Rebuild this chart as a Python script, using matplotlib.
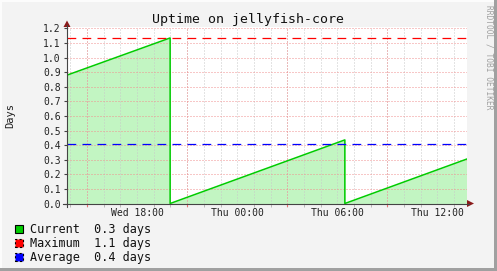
import matplotlib
matplotlib.use("Agg")
import matplotlib.pyplot as plt
from matplotlib.patches import Rectangle, Polygon
from matplotlib.lines import Line2D

# datos (horas desde el miércoles 00:00, uptime en días)
hours = [13.8, 19.98, 19.98, 30.45, 30.45, 37.74]
uptime = [0.88, 1.135, 0.0, 0.436, 0.0, 0.304]
maximum = 1.135
average = 0.405
current = uptime[-1]

label_hours = [18, 24, 30, 36]
label_text = ["Wed 18:00", "Thu 00:00", "Thu 06:00", "Thu 12:00"]
major_grid_hours = [15, 21, 27, 33]
minor_grid_hours = list(range(14, 38))
y_ticks = [i / 10 for i in range(13)]

W, H = 497, 271
mono = "DejaVu Sans Mono"


def fx(x):
    return x / W


def fy(y):
    return 1 - y / H


fig = plt.figure(figsize=(W / 100, H / 100), dpi=100)
fig.patch.set_facecolor("#f3f3f3")

# borde estilo 3D
fig.add_artist(Rectangle((0, fy(2)), 1, 2 / H, transform=fig.transFigure, color="#fcfcfc", lw=0))
fig.add_artist(Rectangle((0, 0), 2 / W, 1, transform=fig.transFigure, color="#fcfcfc", lw=0))
fig.add_artist(Rectangle((fx(494), 0), 3 / W, 1, transform=fig.transFigure, color="#a0a0a0", lw=0))
fig.add_artist(Rectangle((0, 0), 1, 3 / H, transform=fig.transFigure, color="#a0a0a0", lw=0))

left, right, top, bottom = 67, 466.5, 27, 203.5
ax = fig.add_axes([fx(left), fy(bottom), (right - left) / W, (bottom - top) / H])
ax.set_facecolor("white")
for s in ax.spines.values():
    s.set_visible(False)

ax.set_xlim(hours[0], hours[-1])
ax.set_ylim(0, 1.21)

# grilla
for h in minor_grid_hours:
    ax.axvline(h, color="#c8c8c8", lw=0.72, ls=(0, (1, 2)), zorder=3)
for h in major_grid_hours:
    ax.axvline(h, color="#f09090", lw=0.72, ls=(0, (1, 2)), zorder=3)
for v in y_ticks[1:]:
    ax.axhline(v, color="#f09090", lw=0.72, ls=(0, (1, 2)), zorder=3)

# área y línea
ax.fill_between(hours, uptime, 0, color="#c2f5c2", lw=0, zorder=2)
ax.plot(hours, uptime, color="#00cc00", lw=1.1, zorder=4)
ax.axhline(maximum, color="#ff0000", lw=0.9, ls=(0, (7, 5)), zorder=5)
ax.axhline(average, color="#0000ff", lw=0.9, ls=(0, (7, 5)), zorder=5)

# ticks
ax.set_xticks(label_hours)
ax.set_xticklabels(label_text, fontfamily=mono, fontsize=7)
ax.tick_params(axis="x", length=0, pad=3.5, colors="#222222")
ax.set_xticks(minor_grid_hours, minor=True)
ax.tick_params(axis="x", which="minor", length=2, color="#b0b0b0", direction="out")
ax.set_yticks(y_ticks)
ax.set_yticklabels(["%.1f" % v for v in y_ticks], fontfamily=mono, fontsize=7)
ax.tick_params(axis="y", length=2.5, pad=2, color="#444444", labelcolor="#222222")
for h in major_grid_hours:
    ax.plot([h, h], [0, -0.02], color="#f07070", lw=0.8, clip_on=False, zorder=6)

# ejes con flechas
fig.add_artist(Line2D([fx(63), fx(469)], [fy(bottom), fy(bottom)], transform=fig.transFigure,
                      color="#444444", lw=0.8))
fig.add_artist(Line2D([fx(left), fx(left)], [fy(207), fy(25)], transform=fig.transFigure,
                      color="#444444", lw=0.8))
fig.add_artist(Polygon([(fx(467), fy(200)), (fx(474), fy(bottom)), (fx(467), fy(207))],
                       transform=fig.transFigure, color="#8b1a1a", lw=0))
fig.add_artist(Polygon([(fx(63.5), fy(27)), (fx(left), fy(20.5)), (fx(70.5), fy(27))],
                       transform=fig.transFigure, color="#8b1a1a", lw=0))

# textos
fig.text(fx(248), fy(19.5), "Uptime on jellyfish-core", fontfamily=mono, fontsize=9.5,
         ha="center", va="center", color="#111111")
fig.text(fx(10), fy(115), "Days", fontfamily=mono, fontsize=7.5, rotation=90,
         ha="center", va="center", color="#222222")
fig.text(fx(489.5), fy(5), "RRDTOOL / TOBI OETIKER", fontfamily=mono, fontsize=5.7,
         rotation=270, ha="center", va="top", color="#a0a0a0")

# leyenda
legend = [("Current", current, "#00cc00", "solid"),
          ("Maximum", maximum, "#ff0000", (0, (2, 2))),
          ("Average", average, "#0000ff", (0, (2, 2)))]
for i, (name, val, col, st) in enumerate(legend):
    yc = 229 + 14 * i
    fig.add_artist(Rectangle((fx(15), fy(yc + 4)), 8 / W, 8 / H, transform=fig.transFigure,
                             facecolor=col, edgecolor="black", lw=0.8, ls=st))
    fig.text(fx(30), fy(yc), "%s  %.1f days" % (name, val), fontfamily=mono, fontsize=8.5,
             ha="left", va="center", color="#111111")

fig.savefig("out.png", dpi=100, facecolor=fig.get_facecolor())
